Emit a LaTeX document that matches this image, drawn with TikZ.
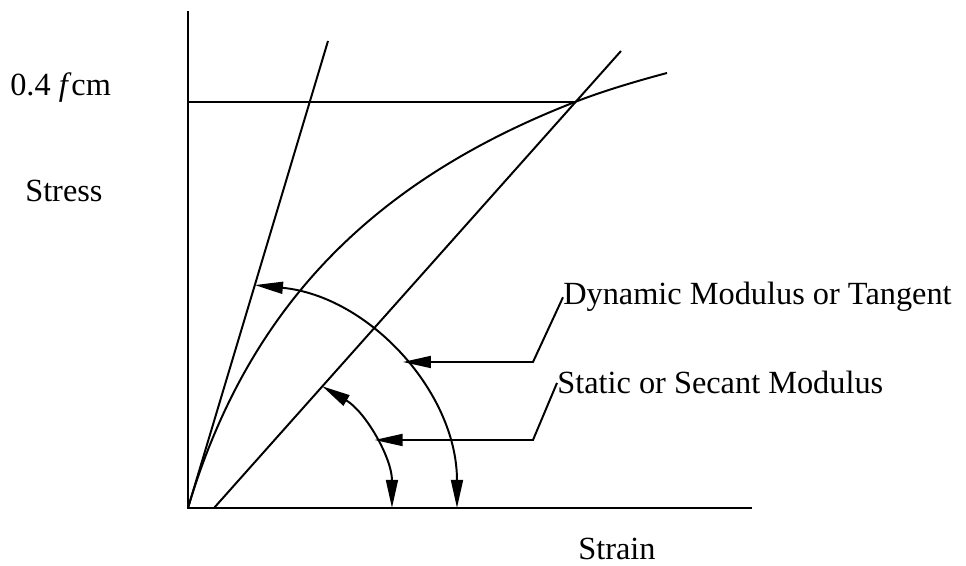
\documentclass[tikz,border=0pt]{standalone}
\usepackage{fontspec}
\setmainfont{Liberation Serif}
\usetikzlibrary{arrows.meta}
\begin{document}
\begin{tikzpicture}[
  every node/.style={inner sep=0pt, anchor=base west, font=\fontsize{23}{27}\selectfont},
  axis/.style={line width=1.7pt},
  curve/.style={line width=1.4pt},
  angle/.style={line width=1.4pt, {Triangle[length=20pt,width=8.5pt]}-{Triangle[length=20pt,width=8.5pt]}},
  lead/.style={line width=1.4pt, -{Triangle[length=20pt,width=8.5pt]}}
]
\useasboundingbox (-4.7,-1.45) rectangle (19.45,12.7);
% axes
\coordinate (origin) at (0,0);
\coordinate (ytop) at (0,12.425);
\coordinate (xend) at (14.1,0);
\draw[axis] (ytop) -- (origin) -- (xend);
% labels
\node (fcm) at (-4.45,10.3) {0.4 \textit{f\/}cm};
\node (stress) at (-4.075,7.65) {Stress};
\node (strain) at (9.75,-1.3) {Strain};
% 0.4 fcm level, tangent, secant, stress-strain curve
\coordinate (peak) at (9.675,10.15);
\coordinate (tanend) at (3.5,11.675);
\coordinate (secstart) at (0.65,0);
\coordinate (secend) at (10.825,11.425);
\coordinate (curveend) at (11.975,10.875);
\draw[curve] (0,10.15) -- (peak);
\draw[curve] (origin) -- (tanend);
\draw[curve] (secstart) -- (secend);
\draw[curve] (origin) .. controls (1.55,5.2) and (4.8,8.25) .. (peak)
  .. controls (10.375,10.425) and (11.225,10.675) .. (curveend);
% angle arcs
\coordinate (tanhit) at (1.671,5.573);
\coordinate (sechit) at (3.358,3.042);
\draw[angle] (tanhit) arc[start angle=84.4, end angle=0, radius=5.6];
\draw[angle] (sechit) arc[start angle=59.6, end angle=0, radius=3.525];
% leaders
\node (dyn) at (9.375,5.075) {Dynamic Modulus or Tangent};
\node (sta) at (9.225,2.85) {Static or Secant Modulus};
\coordinate (dynknee) at (8.625,3.65);
\coordinate (dyntip) at (5.372,3.65);
\coordinate (staknee) at (8.625,1.7);
\coordinate (statip) at (4.663,1.7);
\draw[lead] (dyn.west) -- (dynknee) -- (dyntip);
\draw[lead] (sta.west) -- (staknee) -- (statip);
\end{tikzpicture}
\end{document}
